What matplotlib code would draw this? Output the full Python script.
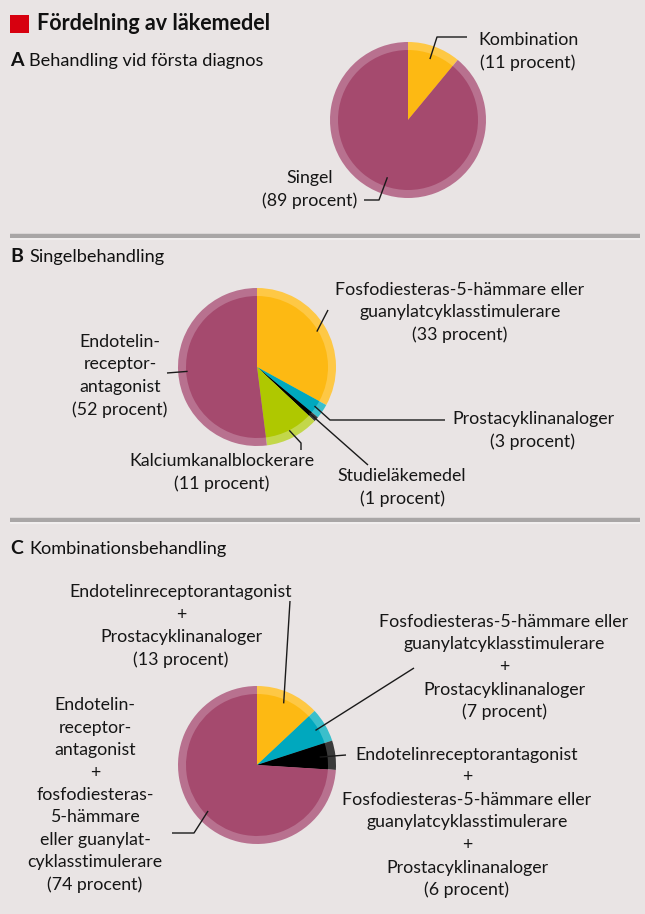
import matplotlib.pyplot as plt
import numpy as np

plt.rcParams['font.family'] = ['Lato', 'DejaVu Sans']

W, H = 645, 914
BG = '#e9e4e4'

# A: first diagnosis
a_labels = ['Kombination', 'Singel']
a_values = [11, 89]
# B: single treatment
b_labels = ['Fosfodiesteras-5-hämmare eller\nguanylatcyklasstimulerare',
            'Prostacyklinanaloger', 'Studieläkemedel',
            'Kalciumkanalblockerare',
            'Endotelin-\nreceptor-\nantagonist']
b_values = [33, 3, 1, 11, 52]
# C: combination treatment
c_labels = ['Endotelinreceptorantagonist\n+\nProstacyklinanaloger',
            'Fosfodiesteras-5-hämmare eller\nguanylatcyklasstimulerare\n+\nProstacyklinanaloger',
            'Endotelinreceptorantagonist\n+\nFosfodiesteras-5-hämmare eller\nguanylatcyklasstimulerare\n+\nProstacyklinanaloger',
            'Endotelin-\nreceptor-\nantagonist\n+\nfosfodiesteras-\n5-hämmare\neller guanylat-\ncyklasstimulerare']
c_values = [13, 7, 6, 74]

# colours (inner, outer ring)
MAG = ('#a54a6e', '#b8718f')
YEL = ('#fdb913', '#fec845')
TEA = ('#00a8be', '#3bbfcb')
GRN = ('#afc800', '#c3d74a')
BLK = ('#000000', '#3a3a3a')

fig = plt.figure(figsize=(W / 100, H / 100), dpi=100, facecolor=BG)
ax = fig.add_axes([0, 0, 1, 1])
ax.set_xlim(0, W)
ax.set_ylim(0, H)
ax.set_aspect('equal')
ax.axis('off')


def fy(y):
    return H - y


LH = 22.5
FS = 12.8


def label(x, y0, lines):
    # y0 = centre of the first line (pixels from top)
    for i, s in enumerate(lines.split('\n')):
        ax.text(x, fy(y0 + i * LH), s, ha='center', va='center',
                fontsize=FS, color='#161616')


def ring_pie(values, colors, cx, cy, R):
    ax.pie(values, colors=[c[1] for c in colors], radius=R, center=(cx, fy(cy)),
           startangle=90, counterclock=False, wedgeprops=dict(linewidth=0),
           frame=True)
    ax.pie(values, colors=[c[0] for c in colors], radius=R - 8, center=(cx, fy(cy)),
           startangle=90, counterclock=False, wedgeprops=dict(linewidth=0),
           frame=True)
    # mid angles of the wedges
    v = np.array(values, float)
    ends = 90 - 360 * np.cumsum(v) / v.sum()
    starts = ends + 360 * v / v.sum()
    return (starts + ends) / 2


def anchor(cx, cy, R, ang, f=0.83):
    a = np.radians(ang)
    return cx + f * R * np.cos(a), cy - f * R * np.sin(a)


def leader(pts):
    xs = [p[0] for p in pts]
    ys = [fy(p[1]) for p in pts]
    ax.plot(xs, ys, color='#1a1a1a', lw=1.0, solid_capstyle='butt')


# header
ax.add_patch(plt.Rectangle((10, fy(33)), 19, 18, color='#d7000f', lw=0))
ax.text(37, fy(23), 'Fördelning av läkemedel', fontsize=15.5, fontweight='bold',
        va='center', ha='left', color='#111111')


def section(y, letter, title):
    ax.text(10, fy(y), letter, fontsize=14, fontweight='bold', va='center',
            ha='left', color='#111111')
    ax.text(29, fy(y), title, fontsize=13.1, va='center', ha='left',
            color='#111111')


def sep(y):
    ax.plot([10, 640], [fy(y), fy(y)], color='#a9a6a6', lw=3.2,
            solid_capstyle='butt')
    ax.plot([10, 640], [fy(y + 3), fy(y + 3)], color='#f2efef', lw=1.4,
            solid_capstyle='butt')


# ---- A
section(61, 'A', 'Behandling vid första diagnos')
cx, cy, R = 408, 120, 78
mids = ring_pie(a_values, [YEL, MAG], cx, cy, R)
p = anchor(cx, cy, R, mids[0])
leader([p, (437, 37), (467, 37)])
label(528, 40, a_labels[0] + '\n(%d procent)' % a_values[0])
p = anchor(cx, cy, R, mids[1], 0.78)
leader([p, (379, 200), (364, 200)])
label(310, 178, a_labels[1] + '\n(%d procent)' % a_values[1])

sep(236)

# ---- B
section(257, 'B', 'Singelbehandling')
cx, cy, R = 257, 367, 79
mids = ring_pie(b_values, [YEL, TEA, BLK, GRN, MAG], cx, cy, R)
p = anchor(cx, cy, R, mids[0], 0.88)
leader([p, (328, 310)])
label(460, 290, b_labels[0] + '\n(%d procent)' % b_values[0])
p = anchor(cx, cy, R, mids[1], 0.88)
leader([p, (330, 420), (445, 420)])
label(533, 419, b_labels[1] + '\n(%d procent)' % b_values[1])
p = anchor(cx, cy, R, mids[2], 0.88)
leader([p, (368, 465)])
label(402, 476, b_labels[2] + '\n(%d procent)' % b_values[2])
p = anchor(cx, cy, R, mids[3], 0.9)
leader([p, (301, 443), (301, 450)])
label(222, 461, b_labels[3] + '\n(%d procent)' % b_values[3])
p = anchor(cx, cy, R, mids[4], 0.88)
leader([p, (167, 373)])
label(120, 342, b_labels[4] + '\n(%d procent)' % b_values[4])

sep(520)

# ---- C
section(549, 'C', 'Kombinationsbehandling')
cx, cy, R = 257, 765, 79
mids = ring_pie(c_values, [YEL, TEA, BLK, MAG], cx, cy, R)
p = anchor(cx, cy, R, mids[0], 0.85)
leader([p, (290, 601)])
label(181, 592, c_labels[0] + '\n(%d procent)' % c_values[0])
p = anchor(cx, cy, R, mids[1], 0.86)
leader([p, (414, 668)])
label(504, 622, c_labels[1] + '\n(%d procent)' % c_values[1])
p = anchor(cx, cy, R, mids[2], 0.8)
leader([p, (346, 755)])
label(467, 755, c_labels[2] + '\n(%d procent)' % c_values[2])
p = anchor(cx, cy, R, mids[3], 0.85)
leader([p, (194, 833), (172, 833)])
label(95, 705, c_labels[3] + '\n(%d procent)' % c_values[3])

ax.set_xlim(0, W)
ax.set_ylim(0, H)
ax.axis('off')
fig.savefig('out.png', dpi=100, facecolor=BG)
